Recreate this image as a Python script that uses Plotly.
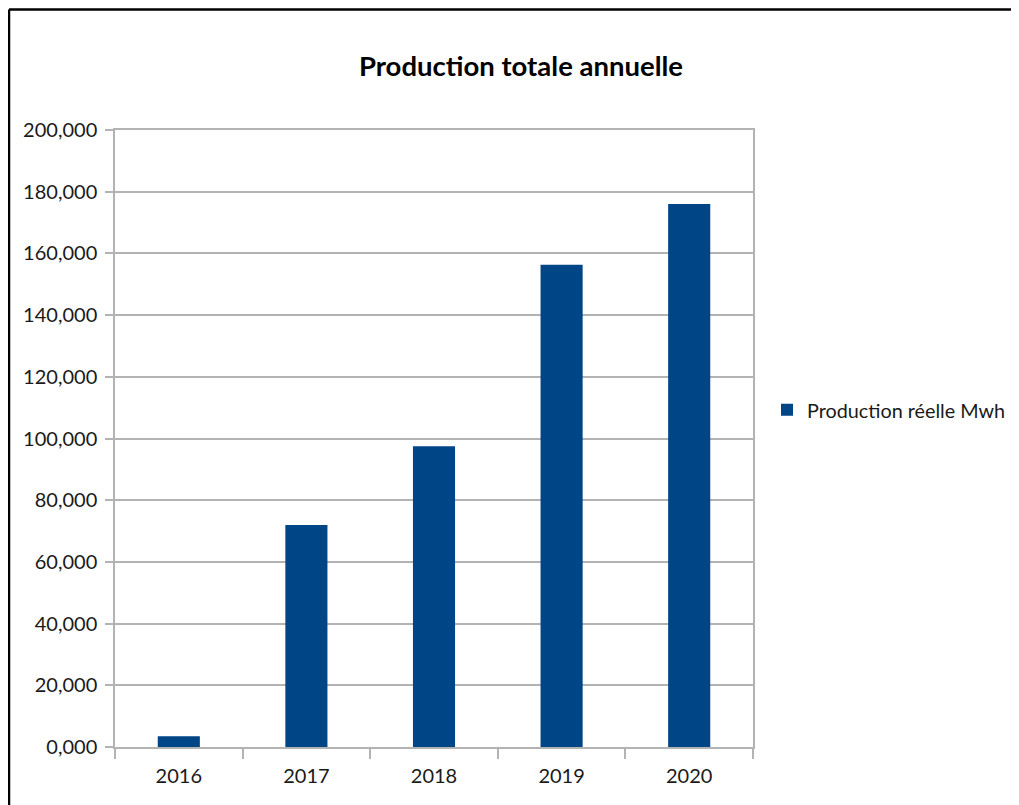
import plotly.graph_objects as go

years = ["2016", "2017", "2018", "2019", "2020"]
production = [3500, 72000, 97500, 156300, 176000]
y_ticks = [0, 20000, 40000, 60000, 80000, 100000, 120000, 140000, 160000, 180000, 200000]
y_labels = ["0,000", "20,000", "40,000", "60,000", "80,000", "100,000", "120,000",
            "140,000", "160,000", "180,000", "200,000"]

OFF = 8  # page body margin
W, H = 1019 - OFF, 805 - OFF
# plot area in page pixels
L, R, T, B = 115, 753, 130, 747

fig = go.Figure()
fig.add_trace(go.Bar(x=years, y=production, name="Production réelle Mwh",
                     marker=dict(color="#004586", line=dict(width=0)), width=0.33))

def px(x):
    return (x - L) / (R - L)

def py(y):
    return (B - y) / (B - T)

fig.update_layout(
    width=W, height=H,
    margin=dict(l=L - OFF, r=W - (R - OFF), t=T - OFF, b=H - (B - OFF), autoexpand=False),
    paper_bgcolor="white", plot_bgcolor="white",
    font=dict(family="Lato", size=20, color="#1a1a1a"),
    title=dict(text="<b>Production totale annuelle</b>", xref="container", yref="container",
               x=(521 - OFF) / W, xanchor="center",
               y=1 - (66 - OFF) / H, yanchor="middle",
               font=dict(family="Lato", size=27.5, color="black")),
    showlegend=True,
    legend=dict(x=px(767), y=py(410), xanchor="left", yanchor="middle",
                font=dict(family="Lato", size=19.8, color="#1a1a1a"), itemwidth=30),
    xaxis=dict(showgrid=False, showline=True, linecolor="#b3b3b3", linewidth=1.5,
               mirror=True, ticks="outside", tickson="boundaries", ticklen=10,
               tickcolor="#b3b3b3", tickwidth=1.5, tickfont=dict(size=20),
               ticklabelstandoff=10),
    yaxis=dict(range=[0, 200000], tickvals=y_ticks, ticktext=y_labels, showgrid=True,
               gridcolor="#b3b3b3", gridwidth=1.5, showline=True, linecolor="#b3b3b3",
               linewidth=1.5, mirror=True, ticks="outside", ticklen=8, tickcolor="#b3b3b3",
               tickwidth=1.5, zeroline=False, tickfont=dict(size=20), ticklabelstandoff=4),
    shapes=[
        dict(type="line", xref="paper", yref="paper", x0=px(9), x1=px(9), y0=py(830), y1=py(9.5),
             line=dict(color="black", width=2.5)),
        dict(type="line", xref="paper", yref="paper", x0=px(9), x1=px(1040), y0=py(9.5), y1=py(9.5),
             line=dict(color="black", width=2.5)),
    ],
)

fig.write_html("out.html")
